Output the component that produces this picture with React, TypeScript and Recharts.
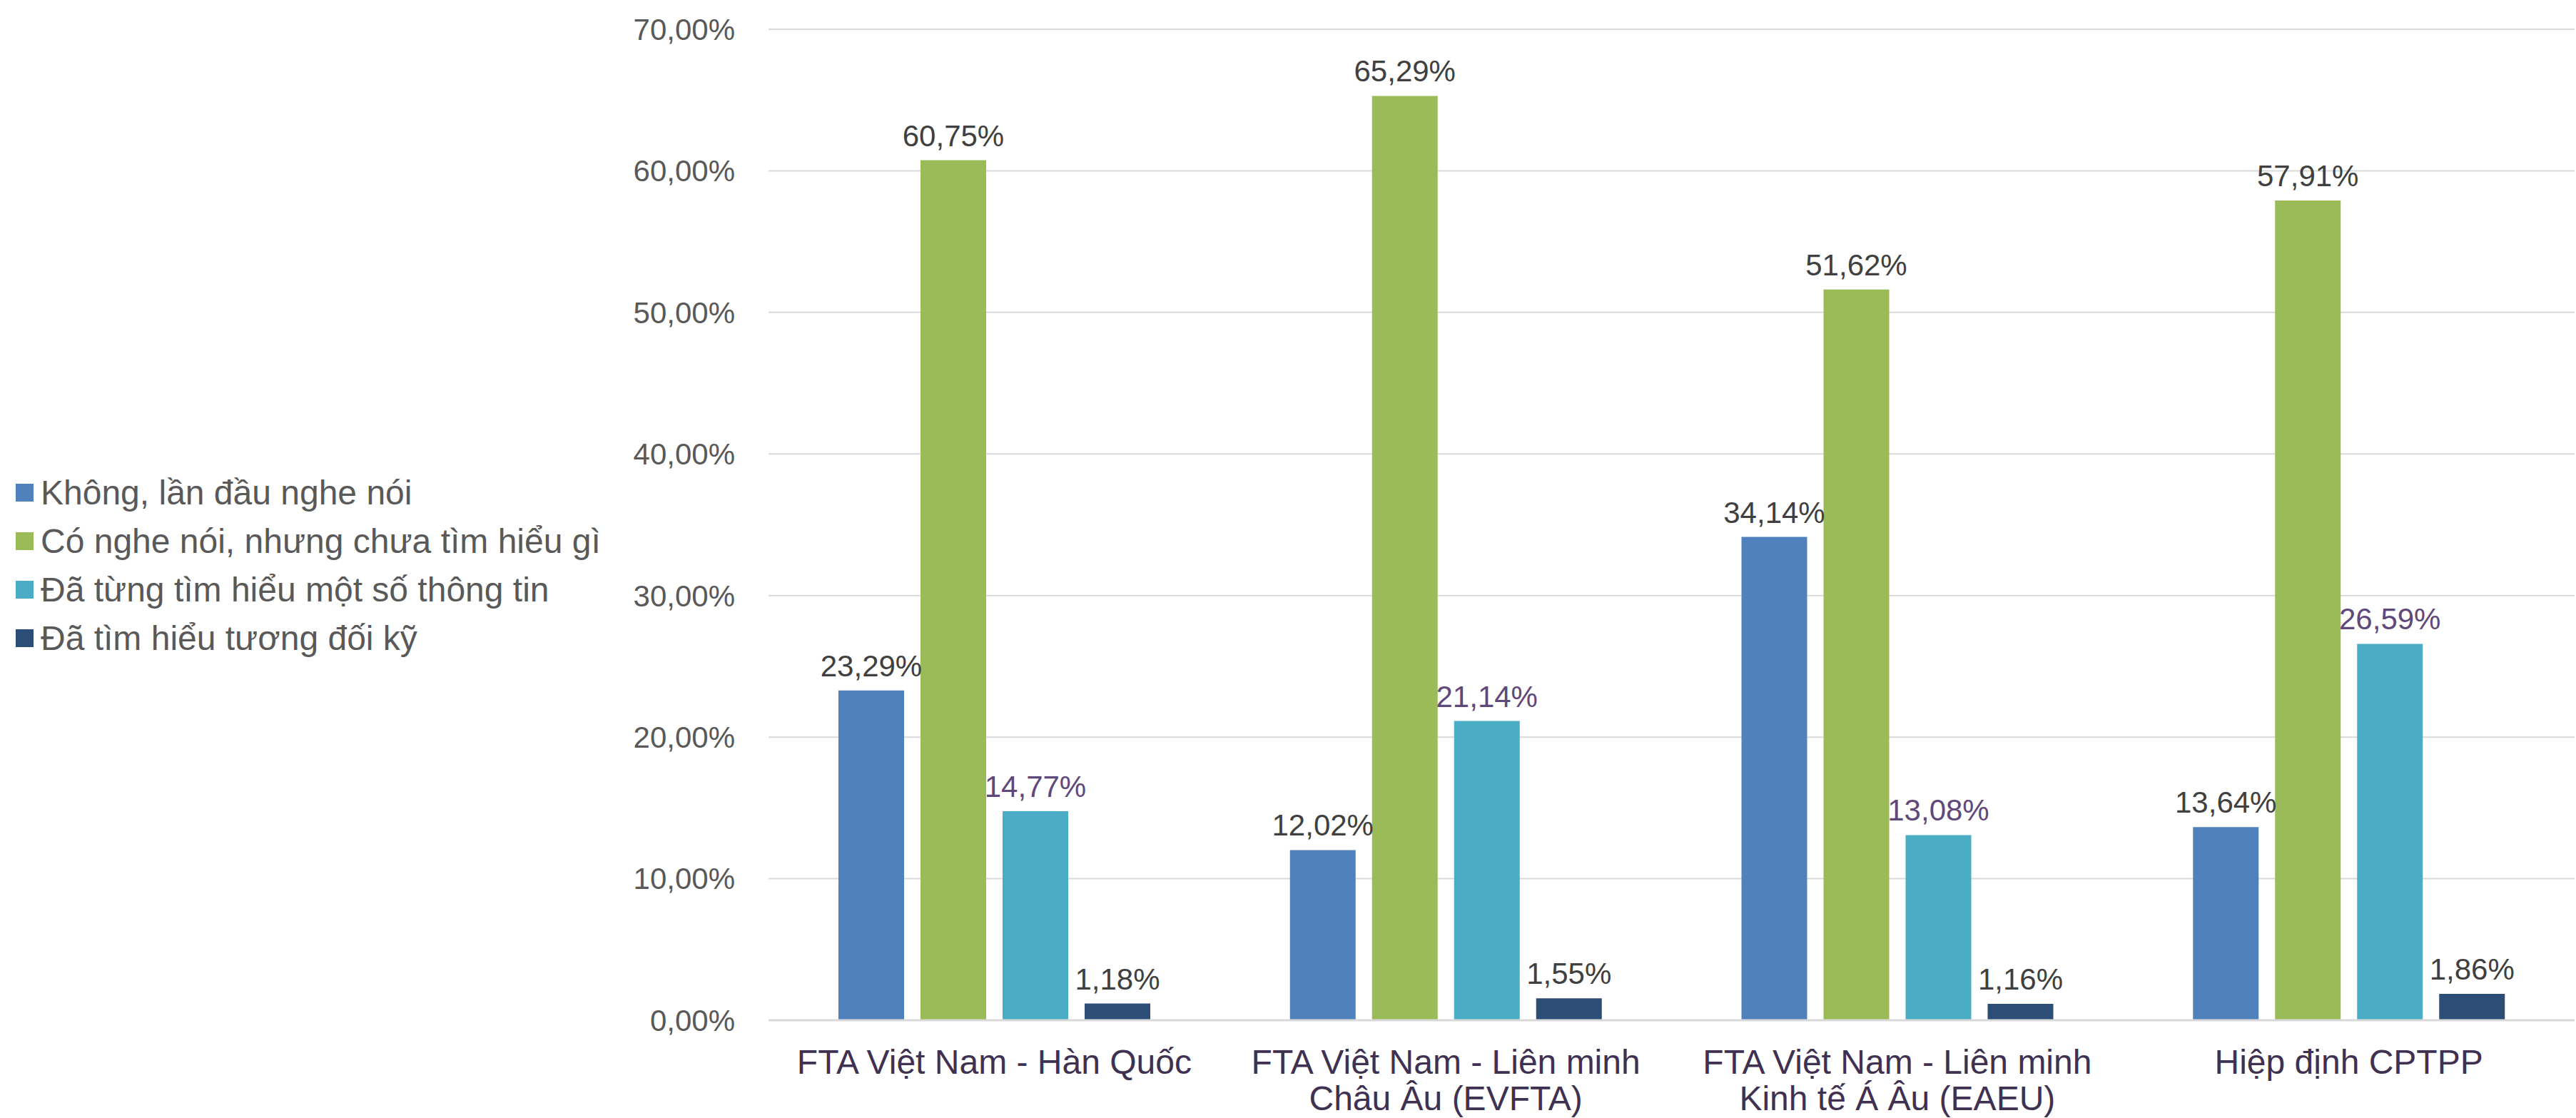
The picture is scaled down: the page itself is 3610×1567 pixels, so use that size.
import React from "react";
import {
  Bar,
  BarChart,
  CartesianGrid,
  LabelList,
  XAxis,
  YAxis,
} from "recharts";

const categories = [
  "FTA Việt Nam - Hàn Quốc",
  "FTA Việt Nam - Liên minh\nChâu Âu (EVFTA)",
  "FTA Việt Nam - Liên minh\nKinh tế Á Âu (EAEU)",
  "Hiệp định CPTPP",
];

const seriesNames = [
  "Không, lần đầu nghe nói",
  "Có nghe nói, nhưng chưa tìm hiểu gì",
  "Đã từng tìm hiểu một số thông tin",
  "Đã tìm hiểu tương đối kỹ",
];

const neverHeard = [23.29, 12.02, 34.14, 13.64];
const heardOnly = [60.75, 65.29, 51.62, 57.91];
const someInfo = [14.77, 21.14, 13.08, 26.59];
const thorough = [1.18, 1.55, 1.16, 1.86];

const yTicks = [0, 10, 20, 30, 40, 50, 60, 70];

const colors = ["#4f81bd", "#9bbb59", "#4bacc6", "#2c4d75"];
const labelColors = ["#404040", "#404040", "#5f497a", "#404040"];

const FONT = '"Liberation Sans", Arial, sans-serif';

const data = categories.map((name, i) => ({
  name,
  s0: neverHeard[i],
  s1: heardOnly[i],
  s2: someInfo[i],
  s3: thorough[i],
}));

const pct = (v: number) => v.toFixed(2).replace(".", ",") + "%";

function CategoryTick({ x, y, payload }: any) {
  const lines = String(payload.value).split("\n");
  return (
    <text
      x={x}
      y={y}
      textAnchor="middle"
      fill="#3f3151"
      fontSize={48}
      fontFamily={FONT}
    >
      {lines.map((line, i) => (
        <tspan key={i} x={x} dy={i === 0 ? 75 : 51}>
          {line}
        </tspan>
      ))}
    </text>
  );
}

// legend sits left of the plot, drawn as plain html so it takes no chart space
function SideLegend() {
  return (
    <div
      style={{
        position: "absolute",
        left: 22,
        top: 656,
        fontFamily: FONT,
        fontSize: 48,
        color: "#595959",
      }}
    >
      {seriesNames.map((n, i) => (
        <div
          key={n}
          style={{ display: "flex", alignItems: "center", height: 68 }}
        >
          <span
            style={{
              width: 25,
              height: 25,
              background: colors[i],
              marginRight: 10,
              display: "inline-block",
            }}
          />
          <span style={{ whiteSpace: "nowrap" }}>{n}</span>
        </div>
      ))}
    </div>
  );
}

export default function App() {
  return (
    <div
      style={{
        position: "absolute",
        left: 0,
        top: 0,
        width: 3610,
        height: 1567,
        background: "#fff",
      }}
    >
      <BarChart
        width={3610}
        height={1567}
        data={data}
        margin={{ top: 41, right: 2, left: 900, bottom: 0 }}
        barSize={92}
        barGap={23}
      >
        <CartesianGrid vertical={false} stroke="#d9d9d9" strokeWidth={2} />
        <XAxis
          dataKey="name"
          interval={0}
          height={137}
          tickLine={false}
          tickSize={0}
          tickMargin={0}
          axisLine={{ stroke: "#d9d9d9", strokeWidth: 3 }}
          tick={<CategoryTick />}
        />
        <YAxis
          domain={[0, 70]}
          ticks={yTicks}
          width={177}
          axisLine={false}
          tickLine={false}
          tickSize={0}
          tickMargin={47}
          tickFormatter={pct}
          tick={{ fill: "#595959", fontSize: 42, fontFamily: FONT }}
        />
        {[0, 1, 2, 3].map((i) => (
          <Bar
            key={i}
            dataKey={`s${i}`}
            name={seriesNames[i]}
            fill={colors[i]}
            isAnimationActive={false}
          >
            <LabelList
              dataKey={`s${i}`}
              position="top"
              offset={20}
              formatter={(v: any) => pct(Number(v))}
              fill={labelColors[i]}
              fontSize={42}
              fontFamily={FONT}
            />
          </Bar>
        ))}
      </BarChart>
      <SideLegend />
    </div>
  );
}
